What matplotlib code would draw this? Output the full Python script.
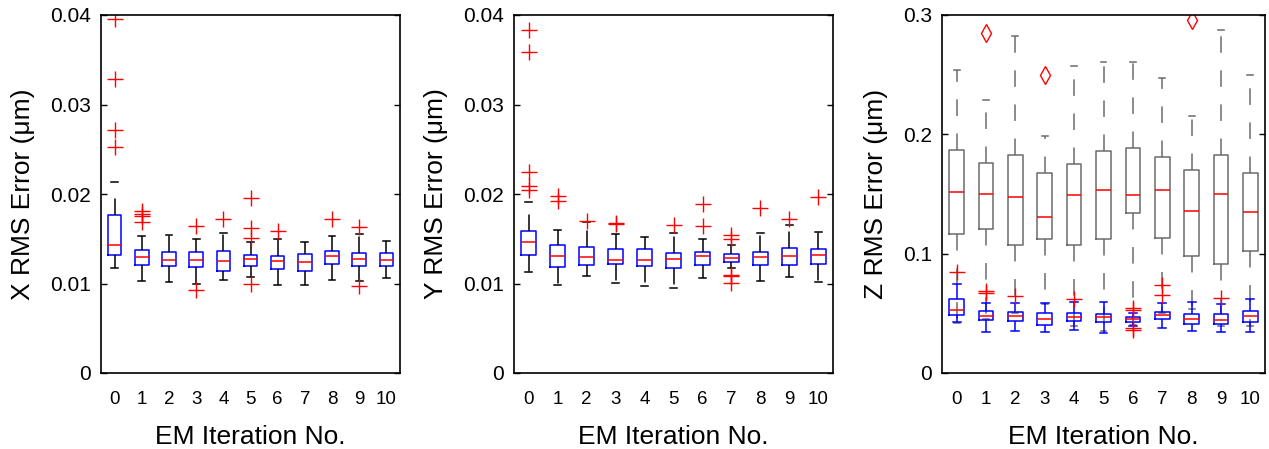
import matplotlib
matplotlib.use('Agg')
import matplotlib.pyplot as plt

plt.rcParams['font.family'] = ['Liberation Sans', 'DejaVu Sans']

iters = list(range(11))
xtick_labels = [str(i) for i in iters]

# ---------------- X RMS error ----------------
x_q3 = [0.01769, 0.01371, 0.01352, 0.01348, 0.01359, 0.01315, 0.01304, 0.0133, 0.01363, 0.01337, 0.01337]
x_med = [0.01426, 0.01292, 0.01259, 0.01266, 0.01248, 0.0127, 0.01251, 0.01244, 0.01307, 0.0127, 0.01266]
x_q1 = [0.01322, 0.01203, 0.01199, 0.01188, 0.01136, 0.01196, 0.01162, 0.01143, 0.01218, 0.01196, 0.01192]
x_hi = [0.0213, 0.01527, 0.01538, 0.01497, 0.01564, 0.01464, 0.01493, 0.01464, 0.01527, 0.01549, 0.01471]
x_lo = [0.01169, 0.01024, 0.0102, 0.0099, 0.01035, 0.01073, 0.0098, 0.0098, 0.01043, 0.01032, 0.01058]
x_out = [[0.03955, 0.03289, 0.02719, 0.02521], [0.01806, 0.0178, 0.0175, 0.01687], [],
         [0.01639, 0.0093], [0.01724], [0.01959, 0.01616, 0.01508, 0.00994], [0.01583], [],
         [0.01717], [0.01631, 0.00976], []]

# ---------------- Y RMS error ----------------
y_q3 = [0.01583, 0.01426, 0.01404, 0.01385, 0.01382, 0.01337, 0.01356, 0.0133, 0.01352, 0.01393, 0.01385]
y_med = [0.01464, 0.01304, 0.01292, 0.01263, 0.01266, 0.0127, 0.01304, 0.01285, 0.01292, 0.01304, 0.01315]
y_q1 = [0.01322, 0.01181, 0.01207, 0.01222, 0.01199, 0.01173, 0.01207, 0.01244, 0.0121, 0.01207, 0.01218]
y_hi = [0.0191, 0.01594, 0.01687, 0.01549, 0.0152, 0.01561, 0.01493, 0.01426, 0.01561, 0.0165, 0.01579]
y_lo = [0.01132, 0.0098, 0.01084, 0.01002, 0.00972, 0.0095, 0.01058, 0.01169, 0.01032, 0.01069, 0.01013]
y_out = [[0.03836, 0.03587, 0.02246, 0.02086, 0.02048], [0.01981, 0.01918], [0.01702],
         [0.01672, 0.01665], [], [0.01654], [0.01892, 0.01642],
         [0.01542, 0.01497, 0.01095, 0.0108, 0.01002], [0.0184], [0.01724], [0.0197]]

# ---------------- Z RMS error (gray series) ----------------
zg_q3 = [0.1866, 0.176, 0.1827, 0.1676, 0.1754, 0.186, 0.1888, 0.1813, 0.1698, 0.1824, 0.1676]
zg_med = [0.1517, 0.1503, 0.1472, 0.1304, 0.1489, 0.1536, 0.1494, 0.1536, 0.1355, 0.15, 0.1352]
zg_q1 = [0.1165, 0.1207, 0.1073, 0.1126, 0.107, 0.1126, 0.1341, 0.1128, 0.0983, 0.0916, 0.102]
zg_hi = [0.2536, 0.229, 0.2821, 0.1989, 0.257, 0.2609, 0.2603, 0.2475, 0.2151, 0.2872, 0.2494]
zg_lo = [0.042, 0.045, 0.050, 0.058, 0.039, 0.035, 0.040, 0.050, 0.054, 0.039, 0.039]
zg_out = [[], [0.2849], [], [0.2497], [], [], [], [], [0.2955], [], []]

# ---------------- Z RMS error (blue series) ----------------
zb_q3 = [0.0623, 0.0517, 0.0508, 0.0503, 0.05, 0.0497, 0.0466, 0.0511, 0.0494, 0.0494, 0.0517]
zb_med = [0.0531, 0.0475, 0.048, 0.0453, 0.0469, 0.0469, 0.0455, 0.0483, 0.0453, 0.0447, 0.0475]
zb_q1 = [0.0489, 0.0441, 0.0439, 0.0405, 0.0433, 0.0425, 0.043, 0.0453, 0.0413, 0.0413, 0.0425]
zb_hi = [0.0749, 0.0587, 0.0587, 0.0587, 0.0592, 0.0598, 0.0503, 0.0589, 0.0595, 0.0578, 0.0623]
zb_lo = [0.0425, 0.0346, 0.0349, 0.0341, 0.0363, 0.0338, 0.0397, 0.0377, 0.0349, 0.0346, 0.0341]
zb_out = [[0.0844], [0.0684, 0.067], [0.0642], [], [0.0617], [],
          [0.0545, 0.0525, 0.0377, 0.0363], [0.0735, 0.0656], [], [0.0628], []]

xy_ticks = [0, 0.01, 0.02, 0.03, 0.04]
xy_ticklabels = ['0', '0.01', '0.02', '0.03', '0.04']
z_ticks = [0, 0.1, 0.2, 0.3]
z_ticklabels = ['0', '0.1', '0.2', '0.3']


def make_stats(q1, med, q3, lo, hi, out):
    return [dict(q1=q1[i], med=med[i], q3=q3[i], whislo=lo[i], whishi=hi[i], fliers=out[i])
            for i in range(len(q1))]


DASH = (0, (10.8, 11.5))


def draw(ax, stats, box_color, whisk_color, marker, msize, capw=0.25):
    ax.bxp(stats, positions=iters, widths=0.5, capwidths=capw,
           boxprops=dict(color=box_color, lw=1.1),
           medianprops=dict(color='red', lw=1.1),
           whiskerprops=dict(color=whisk_color, lw=1.1, linestyle=DASH),
           capprops=dict(color=whisk_color, lw=1.1),
           flierprops=dict(marker=marker, markeredgecolor='red', markerfacecolor='none',
                           markersize=msize, markeredgewidth=1.0, linestyle='none'),
           manage_ticks=False)


fig = plt.figure(figsize=(12.69, 4.49), dpi=100)
W, H = 1269.0, 449.0
ax1 = fig.add_axes([101 / W, 1 - 373 / H, 299 / W, 358 / H])
ax2 = fig.add_axes([514 / W, 1 - 373 / H, 319 / W, 358 / H])
ax3 = fig.add_axes([942 / W, 1 - 373 / H, 323 / W, 358 / H])

draw(ax1, make_stats(x_q1, x_med, x_q3, x_lo, x_hi, x_out), 'blue', 'black', '+', 12)
draw(ax2, make_stats(y_q1, y_med, y_q3, y_lo, y_hi, y_out), 'blue', 'black', '+', 12)
draw(ax3, make_stats(zg_q1, zg_med, zg_q3, zg_lo, zg_hi, zg_out), '0.42', '0.42', 'd', 9, capw=0.2)
draw(ax3, make_stats(zb_q1, zb_med, zb_q3, zb_lo, zb_hi, zb_out), 'blue', 'blue', '+', 12, capw=0.27)

for ax, lab, ticks, tlabels in [
        (ax1, 'X RMS Error (\u03bcm)', xy_ticks, xy_ticklabels),
        (ax2, 'Y RMS Error (\u03bcm)', xy_ticks, xy_ticklabels),
        (ax3, 'Z RMS Error (\u03bcm)', z_ticks, z_ticklabels)]:
    ax.set_xlim(-0.5, 10.5)
    ax.set_ylim(ticks[0], ticks[-1])
    ax.set_yticks(ticks)
    ax.set_yticklabels(tlabels)
    ax.set_xticks(iters)
    ax.set_xticklabels(xtick_labels)
    ax.yaxis.set_ticks_position('both')
    ax.tick_params(axis='y', direction='in', length=4, width=1, labelsize=15, pad=7)
    ax.tick_params(axis='x', length=0, labelsize=13.5, pad=13)
    for s in ax.spines.values():
        s.set_linewidth(1.2)
    ax.set_xlabel('EM Iteration No.', fontsize=19, labelpad=12)
    ax.set_ylabel(lab, fontsize=19, labelpad=11)

fig.savefig('out.png', dpi=100)
